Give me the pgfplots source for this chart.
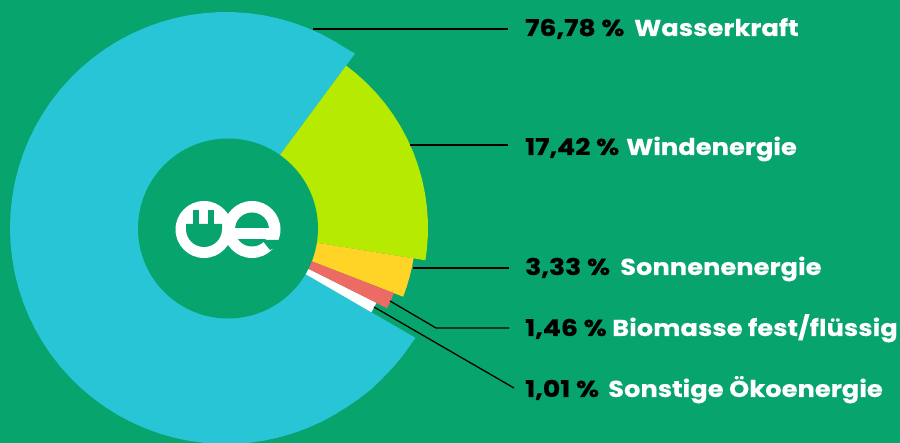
\documentclass[border=0pt]{standalone}
\usepackage{pgfplots}
\usepgfplotslibrary{polar}
\pgfplotsset{compat=1.18}
\usepackage{fontspec}
\setmainfont{Poppins}
\newfontfamily\numf[BoldFeatures={FakeStretch=1.16,FakeBold=0.5}]{Poppins}
\newfontfamily\namef[BoldFeatures={FakeStretch=1.12,FakeBold=0.15}]{Poppins}
\definecolor{bg}{HTML}{08A46E}
\definecolor{cblue}{HTML}{28C5D6}
\definecolor{clime}{HTML}{B6EA00}
\definecolor{cyel}{HTML}{FFD426}
\definecolor{cred}{HTML}{EC6B64}
\tikzset{lead/.style={black,line width=1.3pt},
 lab/.style={anchor=base west,inner sep=0pt}}
\newcommand{\lab}[4]{%
 \node[lab,font=\fontsize{23}{23}\numf\bfseries,text=black] at (525,443-#1) {#3};
 \node[lab,font=\fontsize{23}{23}\namef\bfseries,text=white] at (#2,443-#1) {#4};}
\begin{document}
\begin{tikzpicture}[x=1pt,y=1pt]
\fill[bg] (0,0) rectangle (900,443);
\clip (0,0) rectangle (900,443);
\begin{polaraxis}[at={(226,215)},anchor=center,scale only axis,width=600pt,height=600pt,
 xmin=0,xmax=360,ymin=0,ymax=300,hide axis,clip=false]
% Wasserkraft 76,78 %
\addplot[fill=cblue,draw=none] coordinates {(0,0)(53.5,217)(56,216)(60,216)(64,216)(68,216)(72,216)(76,216)(80,216)(84,216)(88,216)(92,216)(96,216)(100,216)(104,216)(108,216)(112,216)(116,216)(120,216)(124,216)(128,216)(132,216)(136,216)(140,216)(144,216)(148,216)(152,216)(156,216)(160,216)(164,216)(168,216)(172,216)(176,216)(180,216)(184,216)(188,216)(192,216)(196,216)(200,216)(204,216)(208,216)(212,216)(216,216)(220,216)(224,216)(228,216)(232,216)(236,216)(240,216)(244,216)(248,216)(252,216)(256,216)(260,216)(264,216)(268,216)(272,216)(276,216)(280,216)(284,216)(288,216)(292,216)(296,216)(300,216)(304,216)(308,216.5)(312,217)(316,217)(320,217.5)(324,218)(329.9,219)} -- cycle;
% Windenergie 17,42 %
\addplot[fill=clime,draw=none] coordinates {(0,0)(53.5,202)(50,202)(46,202)(42,202)(38,202)(34,202)(30,202)(26,202)(22,202)(18,202)(14,202)(10,202)(6,202)(2,202)(-2,202)(-6,202)(-9.2,202)} -- cycle;
% Sonnenenergie 3,33 %
\addplot[fill=cyel,draw=none] coordinates {(0,0)(-9.2,190)(-12,190)(-15,190)(-18,190)(-21.2,190)} -- cycle;
% Biomasse 1,46 %
\addplot[fill=cred,draw=none] coordinates {(0,0)(-21.2,180)(-23,180)(-25,180)(-26.5,180)} -- cycle;
% Sonstige 1,01 %
\addplot[fill=white,draw=none] coordinates {(0,0)(-26.5,168)(-28,168)(-30.1,168)} -- cycle;
\end{polaraxis}
\fill[bg] (228,443-228.5) circle (90);
% logo
\begin{scope}[shift={(0,443)},y=-1pt]
\fill[white] (204,229.5) circle (28.5);
\fill[white] (252,229.5) circle (28.5);
\fill[bg] (186,224) -- (222,224) -- (222,229) arc[start angle=0,end angle=180,radius=18] -- cycle;
\fill[bg] (193,210) rectangle (199,225);
\fill[bg] (208,210) rectangle (214,225);
\begin{scope}\clip (230,200) rectangle (285,228);\fill[bg] (252,229.5) circle (17);\end{scope}
\begin{scope}\clip (230,240) rectangle (285,260);\fill[bg] (252,229.5) circle (17);\end{scope}
\fill[bg] (262,240) -- (285,240) -- (285,244) -- (270,250) -- cycle;
\draw[lead] (313,29) -- (508,29);
\draw[lead] (410,145) -- (508,145);
\draw[lead] (413,268) -- (509,268);
\draw[lead] (390,301) -- (436,328) -- (509,328);
\draw[lead] (374,307) -- (514,388);
\end{scope}
\lab{36}{634}{76,78 \%}{Wasserkraft}
\lab{155}{626}{17,42 \%}{Windenergie}
\lab{275}{620}{3,33 \%}{Sonnenenergie}
\lab{336}{612}{1,46 \%}{Biomasse fest/flüssig}
\lab{397}{608}{1,01 \%}{Sonstige Ökoenergie}
\end{tikzpicture}
\end{document}
